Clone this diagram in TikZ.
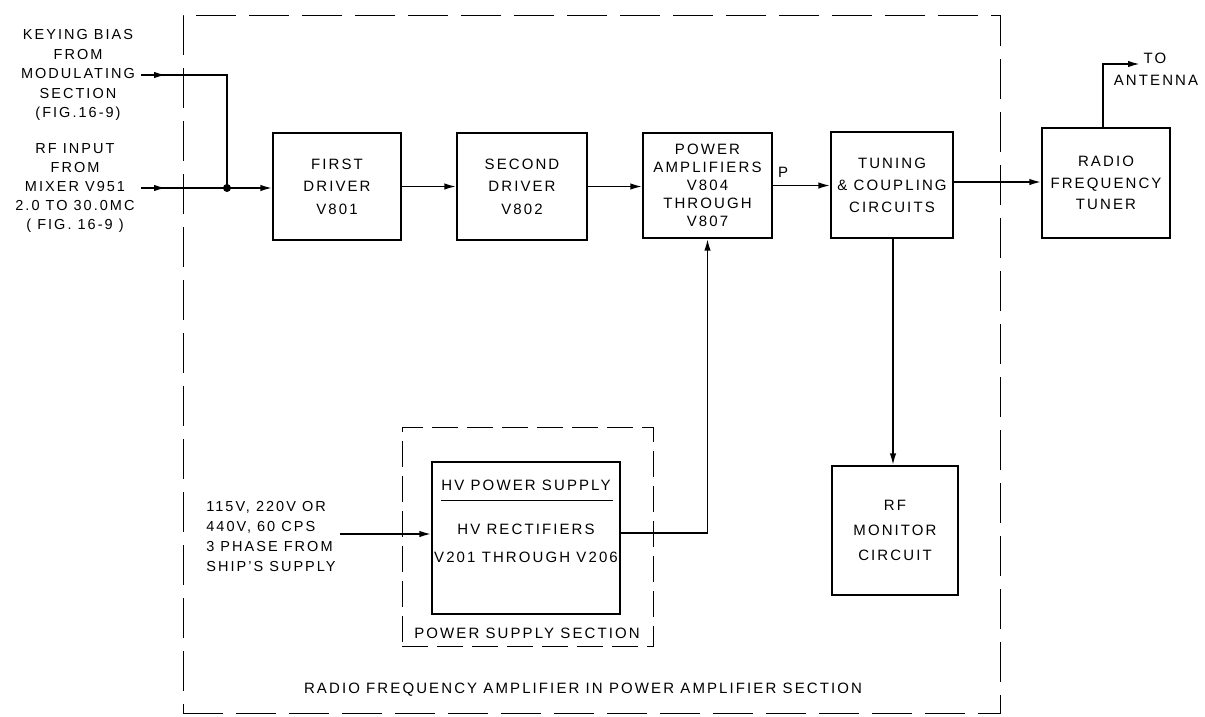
\documentclass[tikz,border=0pt]{standalone}
\usepackage{fontspec}
\setmainfont{Liberation Sans}[LetterSpace=14]
\usepackage{tikz}
\usetikzlibrary{arrows.meta, positioning, calc}

\begin{document}
\begin{tikzpicture}[x=1pt, y=-1pt,
  font=\fontsize{15}{20}\selectfont,
  blk/.style={draw, line width=1.4pt, align=center, inner sep=0pt},
  sig/.style={line width=1.8pt},
  arrowed/.style={-{Latex[length=12pt, width=6.5pt]}},
  dashbox/.style={draw, line width=1pt, dash pattern=on 40pt off 13pt, inner sep=0pt},
  side/.style={align=center, font=\fontsize{14.5}{19.5}\selectfont}]
\useasboundingbox (0,0) rectangle (1205,716);

% outer section and power supply section
\node[dashbox, minimum width=817, minimum height=698] (ampsec) at (591.5,364) {};
\node (amplbl) at (583,690) {RADIO FREQUENCY AMPLIFIER  IN POWER AMPLIFIER SECTION};
\node[dashbox, dash pattern=on 26pt off 9pt, minimum width=251, minimum height=219] (pssec) at (527.5,536.5) {};
\node (psslbl) at (527,633) {POWER SUPPLY SECTION};

% main chain
\node[blk, minimum width=128, minimum height=107, font=\fontsize{15}{22.5}\selectfont] (drv1) at (337,186.5) {FIRST\\DRIVER\\V801};
\node[blk, minimum width=130, minimum height=107, font=\fontsize{15}{22.5}\selectfont] (drv2) at (522,186.5) {SECOND\\DRIVER\\V802};
\node[blk, minimum width=129, minimum height=105, font=\fontsize{15}{18}\selectfont] (pa) at (707.5,185.5) {POWER\\AMPLIFIERS\\V804\\THROUGH\\V807};
\node[blk, minimum width=122, minimum height=106, font=\fontsize{15}{22}\selectfont] (tune) at (892,185) {TUNING\\\& COUPLING\\CIRCUITS};
\node[blk, minimum width=128, minimum height=110, font=\fontsize{15}{21.5}\selectfont] (tuner) at (1106,183) {RADIO\\FREQUENCY\\TUNER};
\node[blk, minimum width=126, minimum height=129, font=\fontsize{15}{25}\selectfont] (mon) at (895,530.5) {RF\\MONITOR\\CIRCUIT};

% hv power supply
\node[blk, minimum width=188, minimum height=152] (hv) at (526,538) {};
\node (hvtitle) at (526,485) {HV POWER  SUPPLY};
\draw[line width=0.8pt] ($(hv.north west)+(10,39)$) -- ($(hv.north east)+(-8,39)$);
\node[align=center, font=\fontsize{15}{28}\selectfont] (hvtext) at (526,543) {HV  RECTIFIERS\\V201 THROUGH V206};

% inputs
\node[side] (kbtxt) at (78,75) {KEYING BIAS\\FROM\\MODULATING\\SECTION\\(FIG.16-9)};
\node[side, font=\fontsize{14.5}{19}\selectfont] (rftxt) at (75,188) {RF  INPUT\\FROM\\MIXER V951\\2.0 TO 30.0MC\\( FIG. 16-9 )};
\node[align=left, font=\fontsize{14.5}{20}\selectfont] (pstxt) at (271,536) {115V, 220V OR\\440V, 60 CPS\\3 PHASE FROM\\SHIP'S SUPPLY};
\coordinate (kbin) at (141,75);
\coordinate (kbtip) at (166,75);
\coordinate (rfin) at (141,188);
\coordinate (rftip) at (166,188);
\coordinate (jn) at (227,188);
\coordinate (psin) at (340,534);
\coordinate (ant) at (1140,64);

\draw[sig] (kbin) -| (jn);
\draw[sig, arrowed] (kbin) -- (kbtip);
\draw[sig] (rfin) -- (jn);
\draw[sig, arrowed] (rfin) -- (rftip);
\fill (jn) circle (4);
\draw[sig, arrowed] (jn) -- (jn -| drv1.west);

% connectors
\draw[sig, arrowed] (drv1.east) -- (drv2.west);
\draw[sig, arrowed] (drv2.east) -- (drv2.east -| pa.west);
\draw[sig, arrowed] (pa.east) -- (pa.east -| tune.west);
\node (plbl) at (783,172) {P};
\draw[sig, arrowed] ([yshift=3pt]tune.east) -- ([yshift=3pt]tune.east -| tuner.west);
\draw[sig, arrowed] ([xshift=1pt]tune.south) -- ([xshift=1pt]tune.south |- mon.north);
\draw[sig, arrowed] ([xshift=-3pt]tuner.north) |- (ant);
\node[anchor=west] (totxt) at (1140,58) {TO};
\node (anttxt) at (1156,80) {ANTENNA};
\draw[sig, arrowed] (psin) -- (psin -| hv.west);
\draw[sig, arrowed] ([yshift=5pt]hv.east) -| (pa.south);
\end{tikzpicture}
\end{document}
